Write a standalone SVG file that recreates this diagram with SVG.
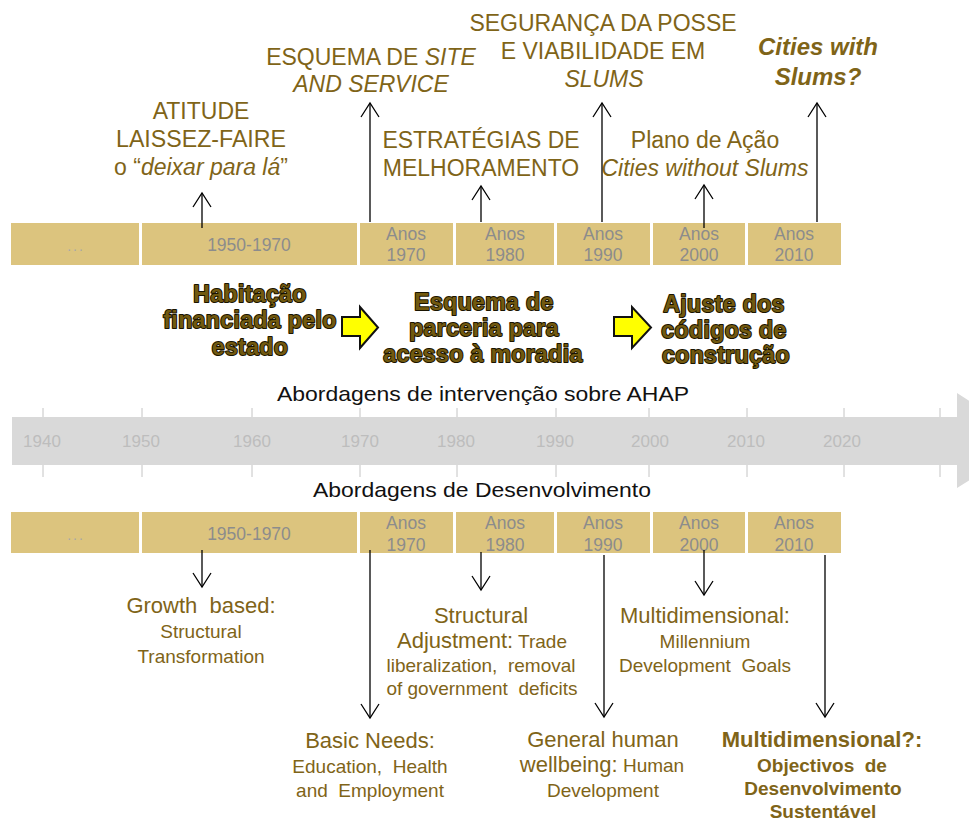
<svg xmlns="http://www.w3.org/2000/svg" width="969" height="821" viewBox="0 0 969 821">
<style>
text{font-family:"Liberation Sans",Arial,sans-serif}
.top{font-size:23px;fill:#7f6418;text-anchor:middle}
.it{font-style:italic}
.bi{font-size:24px;font-weight:bold;font-style:italic;fill:#7f6418;text-anchor:middle}
.box{fill:#dcc47e}
.bt{font-size:17.5px;fill:#8c8c8c;text-anchor:middle}
.dots{font-size:14px;fill:#a8a8a8;text-anchor:middle;letter-spacing:2px}
.mid{font-size:23px;font-weight:bold;fill:#72590f;stroke:#1a1400;stroke-width:2px;stroke-linejoin:round;paint-order:stroke;text-anchor:middle;letter-spacing:0.4px}
.yarrow{fill:#ffff00;stroke:#111;stroke-width:2;stroke-linejoin:miter}
.band{fill:#d9d9d9}
.tick{stroke:#c4c4c4;stroke-width:1}
.yr{font-size:17px;fill:#bdbdbd;text-anchor:middle}
.lbl{font-size:21px;fill:#111;text-anchor:middle}
.h{font-size:22px;fill:#7f6418;text-anchor:middle}
.s{font-size:19px}
.hb{font-size:22px;font-weight:bold;fill:#7f6418;text-anchor:middle}
.sb{font-size:19px;font-weight:bold}
.conn{stroke:#000;stroke-width:1.3;fill:none;marker-end:url(#ah)}
</style>
<defs>
<marker id="ah" viewBox="-16 -11 18 22" markerWidth="18" markerHeight="22" markerUnits="userSpaceOnUse" refX="0" refY="0" orient="auto" overflow="visible">
<path d="M-14,-9 L0,0 L-14,9" fill="none" stroke="#000" stroke-width="1.3"/>
</marker>
</defs>
<rect width="969" height="821" fill="#fff"/>

<!-- timeline band -->
<g id="timeline">
<rect class="band" x="12" y="417" width="946" height="48"/>
<polygon class="band" points="957,393 1032,441 957,488"/>
<g class="tick">
<line x1="43" y1="408" x2="43" y2="417"/><line x1="43" y1="465" x2="43" y2="477"/>
<line x1="142" y1="408" x2="142" y2="417"/><line x1="142" y1="465" x2="142" y2="477"/>
<line x1="252" y1="408" x2="252" y2="417"/><line x1="252" y1="465" x2="252" y2="477"/>
<line x1="360" y1="408" x2="360" y2="417"/><line x1="360" y1="465" x2="360" y2="477"/>
<line x1="457" y1="408" x2="457" y2="417"/><line x1="457" y1="465" x2="457" y2="477"/>
<line x1="556" y1="408" x2="556" y2="417"/><line x1="556" y1="465" x2="556" y2="477"/>
<line x1="649" y1="408" x2="649" y2="417"/><line x1="649" y1="465" x2="649" y2="477"/>
<line x1="747" y1="408" x2="747" y2="417"/><line x1="747" y1="465" x2="747" y2="477"/>
<line x1="844" y1="408" x2="844" y2="417"/><line x1="844" y1="465" x2="844" y2="477"/>
<line x1="940" y1="408" x2="940" y2="417"/><line x1="940" y1="465" x2="940" y2="477"/>
</g>
<text class="yr" x="42" y="447">1940</text>
<text class="yr" x="141" y="447">1950</text>
<text class="yr" x="252" y="447">1960</text>
<text class="yr" x="360" y="447">1970</text>
<text class="yr" x="456" y="447">1980</text>
<text class="yr" x="555" y="447">1990</text>
<text class="yr" x="650" y="447">2000</text>
<text class="yr" x="746" y="447">2010</text>
<text class="yr" x="842" y="447">2020</text>
<text class="lbl" x="483" y="401" textLength="412" lengthAdjust="spacingAndGlyphs">Abordagens de intervenção sobre AHAP</text>
<text class="lbl" x="482" y="497" textLength="338" lengthAdjust="spacingAndGlyphs">Abordagens de Desenvolvimento</text>
</g>

<!-- top period bar -->
<g id="bar-top">
<rect class="box" x="11" y="223" width="128" height="42"/>
<rect class="box" x="142" y="223" width="215" height="42"/>
<rect class="box" x="360" y="223" width="93" height="42"/>
<rect class="box" x="456" y="223" width="98" height="42"/>
<rect class="box" x="557" y="223" width="93" height="42"/>
<rect class="box" x="653" y="223" width="92" height="42"/>
<rect class="box" x="748" y="223" width="93" height="42"/>
<text class="dots" x="76" y="251">...</text>
<text class="bt" x="249" y="251">1950-1970</text>
<text class="bt" x="406" y="240">Anos</text><text class="bt" x="406" y="261">1970</text>
<text class="bt" x="505" y="240">Anos</text><text class="bt" x="505" y="261">1980</text>
<text class="bt" x="603" y="240">Anos</text><text class="bt" x="603" y="261">1990</text>
<text class="bt" x="699" y="240">Anos</text><text class="bt" x="699" y="261">2000</text>
<text class="bt" x="794" y="240">Anos</text><text class="bt" x="794" y="261">2010</text>
</g>

<!-- bottom period bar -->
<g id="bar-bottom">
<rect class="box" x="11" y="512" width="128" height="41"/>
<rect class="box" x="142" y="512" width="215" height="41"/>
<rect class="box" x="360" y="512" width="93" height="41"/>
<rect class="box" x="456" y="512" width="98" height="41"/>
<rect class="box" x="557" y="512" width="93" height="41"/>
<rect class="box" x="653" y="512" width="92" height="41"/>
<rect class="box" x="748" y="512" width="93" height="41"/>
<text class="dots" x="76" y="540">...</text>
<text class="bt" x="249" y="540">1950-1970</text>
<text class="bt" x="406" y="529">Anos</text><text class="bt" x="406" y="551">1970</text>
<text class="bt" x="505" y="529">Anos</text><text class="bt" x="505" y="551">1980</text>
<text class="bt" x="603" y="529">Anos</text><text class="bt" x="603" y="551">1990</text>
<text class="bt" x="699" y="529">Anos</text><text class="bt" x="699" y="551">2000</text>
<text class="bt" x="794" y="529">Anos</text><text class="bt" x="794" y="551">2010</text>
</g>

<!-- top nodes -->
<g id="n-laissez">
<text class="top" x="201" y="119">ATITUDE</text>
<text class="top" x="201" y="147" textLength="170" lengthAdjust="spacingAndGlyphs">LAISSEZ-FAIRE</text>
<text class="top" x="201" y="175">o “<tspan class="it">deixar para lá</tspan>”</text>
</g>
<g id="n-site">
<text class="top" x="371" y="65">ESQUEMA DE <tspan class="it">SITE</tspan></text>
<text class="top it" x="371" y="92">AND SERVICE</text>
</g>
<g id="n-estrategias">
<text class="top" x="481" y="148" textLength="197" lengthAdjust="spacingAndGlyphs">ESTRATÉGIAS DE</text>
<text class="top" x="481" y="176">MELHORAMENTO</text>
</g>
<g id="n-seguranca">
<text class="top" x="603" y="31">SEGURANÇA DA POSSE</text>
<text class="top" x="603" y="59">E VIABILIDADE EM</text>
<text class="top it" x="604" y="87">SLUMS</text>
</g>
<g id="n-plano">
<text class="top" x="705" y="148">Plano de Ação</text>
<text class="top it" x="705" y="176">Cities without Slums</text>
</g>
<g id="n-cities">
<text class="bi" x="818" y="55">Cities with</text>
<text class="bi" x="818" y="85">Slums?</text>
</g>

<!-- middle approaches -->
<g id="n-habitacao">
<text class="mid" x="250" y="302">Habitação</text>
<text class="mid" x="250" y="328">financiada pelo</text>
<text class="mid" x="250" y="355">estado</text>
</g>
<g id="n-arrow1"><polygon class="yarrow" points="342,317 360,317 360,307 378,327.5 360,348 360,336 342,336"/></g>
<g id="n-esquema">
<text class="mid" x="484" y="310">Esquema de</text>
<text class="mid" x="484" y="336">parceria para</text>
<text class="mid" x="483" y="362">acesso à moradia</text>
</g>
<g id="n-arrow2"><polygon class="yarrow" points="614,317 632,317 632,307 651,327.5 632,348 632,336 614,336"/></g>
<g id="n-ajuste">
<text class="mid" x="724" y="312">Ajuste dos</text>
<text class="mid" x="724" y="338">códigos de</text>
<text class="mid" x="726" y="363">construção</text>
</g>

<!-- bottom nodes -->
<g id="n-growth">
<text class="h" x="201" y="613" xml:space="preserve">Growth  based:</text>
<text class="h s" x="201" y="638">Structural</text>
<text class="h s" x="201" y="663">Transformation</text>
</g>
<g id="n-basic">
<text class="h" x="370" y="748">Basic Needs:</text>
<text class="h s" x="370" y="773" xml:space="preserve">Education,  Health</text>
<text class="h s" x="370" y="797" xml:space="preserve">and  Employment</text>
</g>
<g id="n-structural">
<text class="h" x="481" y="623">Structural</text>
<text class="h" x="482" y="648">Adjustment:<tspan class="s"> Trade</tspan></text>
<text class="h s" x="481" y="672" xml:space="preserve">liberalization,  removal</text>
<text class="h s" x="482" y="695" xml:space="preserve">of government  deficits</text>
</g>
<g id="n-general">
<text class="h" x="603" y="747">General human</text>
<text class="h" x="602" y="772">wellbeing:<tspan class="s"> Human</tspan></text>
<text class="h s" x="603" y="797">Development</text>
</g>
<g id="n-mdg">
<text class="h" x="705" y="623">Multidimensional:</text>
<text class="h s" x="705" y="648">Millennium</text>
<text class="h s" x="705" y="672" xml:space="preserve">Development  Goals</text>
</g>
<g id="n-ods">
<text class="hb" x="822" y="747">Multidimensional?:</text>
<text class="hb sb" x="822" y="772" xml:space="preserve">Objectivos  de</text>
<text class="hb sb" x="823" y="795">Desenvolvimento</text>
<text class="hb sb" x="823" y="818">Sustentável</text>
</g>

<!-- connectors -->
<g id="connectors">
<path class="conn" d="M202,228 L202,193"/>
<path class="conn" d="M370,222 L370,103"/>
<path class="conn" d="M481,222 L481,186"/>
<path class="conn" d="M602,222 L602,103"/>
<path class="conn" d="M704,228 L704,185"/>
<path class="conn" d="M817,222 L817,103"/>
<path class="conn" d="M202,550 L202,587"/>
<path class="conn" d="M370,550 L370,718"/>
<path class="conn" d="M481,552 L481,590"/>
<path class="conn" d="M604,555 L604,717"/>
<path class="conn" d="M704,550 L704,595"/>
<path class="conn" d="M825,555 L825,717"/>
</g>
</svg>
